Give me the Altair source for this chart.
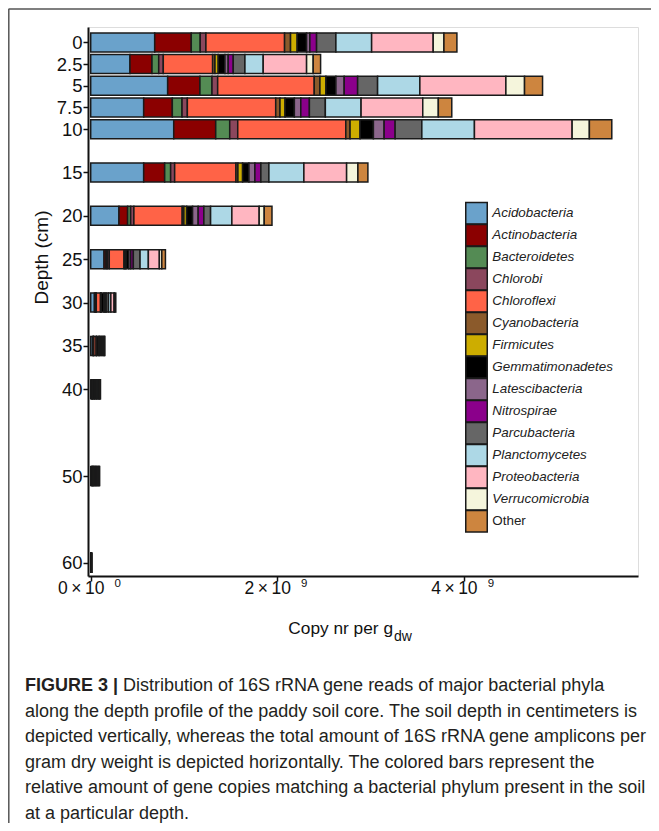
import altair as alt
import pandas as pd

# ---------------- data (copies per g dry weight, x 1e9) ----------------
depths = [0, 2.5, 5, 7.5, 10, 15, 20, 25, 30, 35, 40, 50, 60]

phyla = ["Acidobacteria", "Actinobacteria", "Bacteroidetes", "Chlorobi", "Chloroflexi",
         "Cyanobacteria", "Firmicutes", "Gemmatimonadetes", "Latescibacteria", "Nitrospirae",
         "Parcubacteria", "Planctomycetes", "Proteobacteria", "Verrucomicrobia", "Other"]

colors = ["#6aa2cb", "#8b0000", "#548b54", "#8b475d", "#ff6347",
          "#8b5a2b", "#cdad00", "#000000", "#8b668b", "#8b008b",
          "#666666", "#add8e6", "#ffb6c1", "#f5f5dc", "#cd853f"]

acidobacteria    = [0.686, 0.421, 0.825, 0.568, 0.890, 0.568, 0.303, 0.143, 0.040, 0.020, 0.010, 0.010, 0.0010]
actinobacteria   = [0.392, 0.236, 0.346, 0.307, 0.450, 0.225, 0.093, 0.021, 0.010, 0.008, 0.006, 0.006, 0.0007]
bacteroidetes    = [0.096, 0.072, 0.129, 0.104, 0.150, 0.064, 0.032, 0.014, 0.005, 0.003, 0.002, 0.002, 0.0003]
chlorobi         = [0.061, 0.049, 0.061, 0.057, 0.086, 0.043, 0.035, 0.021, 0.005, 0.003, 0.002, 0.002, 0.0002]
chloroflexi      = [0.843, 0.529, 1.035, 0.947, 1.158, 0.657, 0.518, 0.158, 0.045, 0.025, 0.015, 0.012, 0.0015]
cyanobacteria    = [0.064, 0.025, 0.061, 0.046, 0.046, 0.021, 0.018, 0.011, 0.003, 0.002, 0.002, 0.002, 0.0002]
firmicutes       = [0.071, 0.035, 0.064, 0.054, 0.107, 0.050, 0.029, 0.011, 0.004, 0.003, 0.002, 0.002, 0.0002]
gemmatimonadetes = [0.101, 0.072, 0.107, 0.100, 0.143, 0.068, 0.064, 0.029, 0.030, 0.020, 0.015, 0.014, 0.0015]
latescibacteria  = [0.035, 0.035, 0.089, 0.069, 0.115, 0.064, 0.060, 0.021, 0.012, 0.008, 0.006, 0.005, 0.0006]
nitrospirae      = [0.072, 0.054, 0.144, 0.092, 0.118, 0.064, 0.061, 0.028, 0.012, 0.008, 0.006, 0.005, 0.0006]
parcubacteria    = [0.207, 0.125, 0.214, 0.171, 0.286, 0.086, 0.072, 0.072, 0.025, 0.015, 0.012, 0.010, 0.0012]
planctomycetes   = [0.383, 0.196, 0.453, 0.383, 0.564, 0.375, 0.228, 0.089, 0.025, 0.012, 0.008, 0.008, 0.0010]
proteobacteria   = [0.660, 0.465, 0.922, 0.661, 1.047, 0.458, 0.293, 0.118, 0.035, 0.015, 0.010, 0.010, 0.0012]
verrucomicrobia  = [0.115, 0.071, 0.200, 0.167, 0.185, 0.121, 0.054, 0.026, 0.006, 0.004, 0.003, 0.003, 0.0003]
other            = [0.139, 0.079, 0.193, 0.144, 0.240, 0.107, 0.083, 0.039, 0.012, 0.006, 0.006, 0.005, 0.0006]

series = [acidobacteria, actinobacteria, bacteroidetes, chlorobi, chloroflexi, cyanobacteria,
          firmicutes, gemmatimonadetes, latescibacteria, nitrospirae, parcubacteria,
          planctomycetes, proteobacteria, verrucomicrobia, other]

x_ticks = [0, 2e9, 4e9]
x_tick_exponent = ["0", "9", "9"]

caption_bold = "FIGURE 3 |"
caption_lines = [
    "Distribution of 16S rRNA gene reads of major bacterial phyla",
    "along the depth profile of the paddy soil core. The soil depth in centimeters is",
    "depicted vertically, whereas the total amount of 16S rRNA gene amplicons per",
    "gram dry weight is depicted horizontally. The colored bars represent the",
    "relative amount of gene copies matching a bacterial phylum present in the soil",
    "at a particular depth.",
]

rows = []
for i, (name, vals) in enumerate(zip(phyla, series)):
    for d, v in zip(depths, vals):
        rows.append({"depth": d, "phylum": name, "order": i, "copies": v * 1e9})
df = pd.DataFrame(rows)

ticks_df = pd.DataFrame({"tick": x_ticks, "exp": x_tick_exponent})
legend_df = pd.DataFrame({"phylum": phyla})

FONT = "Liberation Sans"
INK = "#111111"

x_scale = alt.Scale(domain=[-0.0289e9, 5.866e9], nice=False, zero=False)
color_scale = alt.Scale(domain=phyla, range=colors)

bars = alt.Chart(df).mark_bar(size=19, stroke="#1a1a1a", strokeWidth=1.5,
                              orient="horizontal").encode(
    x=alt.X("copies:Q", stack="zero", scale=x_scale,
            axis=alt.Axis(values=x_ticks, title=None, grid=False,
                          labelExpr="format(datum.value / 1e9, 'd') + '\u2009×\u200910'",
                          labelFontSize=17.5, labelFont=FONT, labelColor=INK,
                          labelBaseline="alphabetic", labelOffset=-10,
                          labelPadding=12, tickSize=5, tickWidth=1.5, tickColor=INK,
                          domainColor=INK, domainWidth=2, labelFlush=False)),
    y=alt.Y("depth:Q",
            scale=alt.Scale(domain=[-1.2, 60.95], reverse=True, nice=False, zero=False),
            axis=alt.Axis(values=depths, format="~g", title=None, grid=False,
                          labelFontSize=18.5, labelFont=FONT, labelColor=INK,
                          labelPadding=1, tickSize=5, tickWidth=1.5, tickColor=INK,
                          domainColor=INK, domainWidth=2)),
    color=alt.Color("phylum:N", scale=color_scale, legend=None),
    order=alt.Order("order:Q", sort="ascending"),
)

# legend drawn from the phyla list through its own point scale
legend_y = alt.Y("phylum:N", sort=phyla, axis=None,
                 scale=alt.Scale(domain=phyla, range=[186.3, 494.3], padding=0))

legend_symbols = alt.Chart(legend_df).mark_square(
    size=462, opacity=1, stroke="#1a1a1a", strokeWidth=1.5).encode(
    x=alt.value(388.5), y=legend_y,
    color=alt.Color("phylum:N", scale=color_scale, legend=None))

legend_labels_italic = alt.Chart(legend_df).transform_filter(
    "datum.phylum != 'Other'").mark_text(
    align="left", baseline="middle", fontSize=13.4, font=FONT, fontStyle="italic",
    color="#222").encode(x=alt.value(404.3), y=legend_y, text="phylum:N")

legend_labels_plain = alt.Chart(legend_df).transform_filter(
    "datum.phylum == 'Other'").mark_text(
    align="left", baseline="middle", fontSize=13.4, font=FONT,
    color="#222").encode(x=alt.value(404.3), y=legend_y, text="phylum:N")

# superscript exponents of the x tick labels, placed through the x scale
exps = alt.Chart(ticks_df).mark_text(fontSize=11.5, font=FONT, color=INK, dx=27,
                                     align="center", baseline="alphabetic").encode(
    x=alt.X("tick:Q", scale=x_scale), y=alt.value(560), text="exp:N")

one = pd.DataFrame({"k": [0]})

def txt(text, x, y, size, **kw):
    return alt.Chart(one).mark_text(text=text, fontSize=size, font=FONT,
                                    **kw).encode(x=alt.value(x), y=alt.value(y))

layers = [bars, legend_symbols, legend_labels_italic, legend_labels_plain, exps]
# y-axis title
layers.append(txt("Depth (cm)", -46.3, 230.5, 19, angle=270, align="center",
                  baseline="middle", color=INK))
# x-axis title with subscript
layers.append(txt("Copy nr per g", 305, 607, 17.3, align="right", baseline="alphabetic",
                  color=INK))
layers.append(txt("dw", 306, 614, 14, align="left", baseline="alphabetic", color=INK))

# frame
layers.append(alt.Chart(one).mark_rule(color="#555", strokeWidth=1.5).encode(
    x=alt.value(-79.2), y=alt.value(-18), y2=alt.value(800)))
layers.append(alt.Chart(one).mark_rule(color="#555", strokeWidth=1.5).encode(
    x=alt.value(-79.5), x2=alt.value(600), y=alt.value(-18)))

# caption
base_y = [664, 689.6, 715.2, 740.8, 766.4, 792]
layers.append(txt(caption_bold, -63, base_y[0], 18, fontWeight="bold", align="left",
                  baseline="alphabetic", color="#231f20"))
for i, line in enumerate(caption_lines):
    layers.append(txt(line, 35 if i == 0 else -63, base_y[i], 18, align="left",
                      baseline="alphabetic", color="#231f20"))

chart = alt.layer(*layers).resolve_scale(y="independent").properties(
    width=550, height=549,
    padding={"left": 80, "top": 19, "right": 13, "bottom": 247},
    autosize=alt.AutoSizeParams(type="none"),
).configure_view(stroke=None).configure(font=FONT)

chart.save("out.html", embed_options={"renderer": "svg", "actions": False})
